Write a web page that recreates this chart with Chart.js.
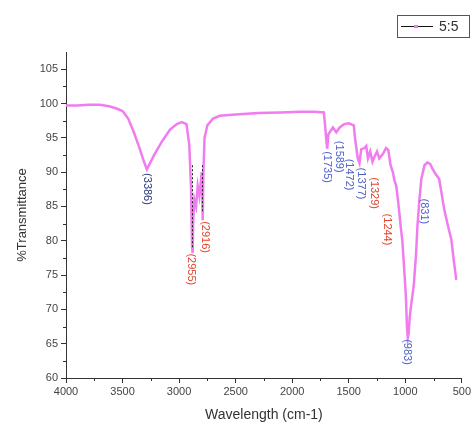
<!DOCTYPE html>
<html>
<head>
<meta charset="utf-8">
<script src="https://cdn.jsdelivr.net/npm/chart.js@4"></script>
<style>
  html, body { margin: 0; padding: 0; background: #fff; }
  #wrap { width: 473px; height: 428px; }
</style>
</head>
<body>
<div id="wrap"><canvas id="ir-chart" width="473" height="428"></canvas></div>
<script>
// spectrum: wavenumber (cm-1) and %T
const wavenumbers = [4000, 3900, 3800, 3700, 3620, 3560, 3500, 3450, 3400, 3350, 3310, 3285, 3260, 3220, 3150, 3080, 3020, 2976,
  2935, 2910, 2895, 2885, 2880, 2875, 2865, 2850, 2835, 2820, 2800, 2791, 2785, 2775, 2750, 2700, 2640, 2500, 2300, 2100,
  1935, 1800, 1720, 1710, 1700, 1690, 1680, 1640, 1610, 1580, 1540, 1500, 1455, 1445, 1420, 1405, 1390, 1360, 1345, 1330,
  1310, 1290, 1273, 1250, 1230, 1200, 1170, 1150, 1130, 1110, 1096, 1080, 1065, 1052, 1040, 1026, 1010, 995, 985, 978,
  970, 960, 945, 925, 905, 893, 875, 858, 830, 805, 780, 760, 735, 700, 680, 655, 620, 593, 570, 549];
const transmittance = [99.7, 99.7, 99.8, 99.8, 99.6, 99.3, 98.9, 97.8, 95.8, 93.5, 91.5, 90.4, 91.2, 92.5, 94.5, 96.2, 97.0, 97.3,
  97.0, 94.0, 88.0, 79.0, 78.2, 83.0, 86.0, 85.0, 88.0, 86.5, 90.0, 83.0, 90.0, 95.0, 96.8, 97.8, 98.2, 98.4, 98.6, 98.7,
  98.8, 98.8, 98.7, 97.0, 95.0, 93.4, 95.5, 96.5, 95.8, 96.5, 97.0, 97.1, 96.8, 95.0, 92.0, 91.3, 93.3, 93.5, 93.8, 92.0,
  93.0, 91.5, 92.2, 93.0, 92.0, 92.6, 93.5, 93.2, 91.0, 90.0, 88.8, 88.0, 86.0, 84.0, 82.0, 80.0, 76.0, 72.0, 67.5, 65.8,
  66.5, 69.0, 71.0, 73.5, 78.0, 82.0, 86.0, 89.0, 91.0, 91.4, 91.2, 90.5, 89.8, 89.0, 87.0, 84.5, 82.0, 80.2, 77.0, 74.3];

// peak labels (text, anchor wavenumber, anchor %T, colour)
const peakLabels = ['(3386)', '(2955)', '(2916)', '(1735)', '(1589)', '(1472)', '(1377)', '(1329)', '(1244)', '(983)', '(831)'];
const peakX = [3285, 2897, 2773, 1688, 1582, 1493, 1388, 1273, 1158, 982, 832];
const peakY = [90.0, 78.3, 83.0, 93.2, 94.7, 92.1, 90.8, 89.4, 84.1, 65.8, 86.3];
const peakColors = ['#2a3a78', '#e2452e', '#e2452e', '#4f62c8', '#4f62c8', '#4f62c8', '#4f62c8', '#e2452e', '#e2452e', '#4f62c8', '#4f62c8'];

const xTicks = [4000, 3500, 3000, 2500, 2000, 1500, 1000, 500];
const yTicks = [60, 65, 70, 75, 80, 85, 90, 95, 100, 105];
const seriesName = '5:5';
const lineColor = '#f07cf0';

const points = wavenumbers.map((w, i) => ({ x: w, y: transmittance[i] }));

const extras = {
  id: 'extras',
  afterDraw(chart) {
    const { ctx, scales: { x, y } } = chart;
    ctx.save();
    // minor ticks
    ctx.strokeStyle = '#333';
    ctx.lineWidth = 1;
    for (let w = 750; w < 4000; w += 500) {
      const px = Math.round(x.getPixelForValue(w)) + 0.5;
      ctx.beginPath(); ctx.moveTo(px, y.bottom); ctx.lineTo(px, y.bottom + 3); ctx.stroke();
    }
    for (let v = 62.5; v < 107.5; v += 5) {
      const py = Math.round(y.getPixelForValue(v)) + 0.5;
      ctx.beginPath(); ctx.moveTo(x.left, py); ctx.lineTo(x.left - 3, py); ctx.stroke();
    }
    // dotted leaders in the C-H bands
    ctx.strokeStyle = '#222';
    ctx.setLineDash([2, 2]);
    [[2885, 91, 79], [2800, 91, 84]].forEach(([w, a, b]) => {
      const px = Math.round(x.getPixelForValue(w)) + 0.5;
      ctx.beginPath(); ctx.moveTo(px, y.getPixelForValue(a)); ctx.lineTo(px, y.getPixelForValue(b)); ctx.stroke();
    });
    ctx.setLineDash([]);
    // rotated peak labels
    ctx.font = '11px "Liberation Sans", Arial, sans-serif';
    ctx.textAlign = 'left';
    ctx.textBaseline = 'middle';
    peakLabels.forEach((t, i) => {
      ctx.save();
      ctx.translate(x.getPixelForValue(peakX[i]), y.getPixelForValue(peakY[i]) + 1);
      ctx.rotate(Math.PI / 2);
      ctx.fillStyle = peakColors[i];
      ctx.fillText(t, 0, 0);
      ctx.restore();
    });
    // legend box
    ctx.strokeStyle = '#555';
    ctx.strokeRect(397.5, 15.5, 72, 22);
    ctx.strokeStyle = '#111';
    ctx.beginPath(); ctx.moveTo(401, 26.5); ctx.lineTo(433, 26.5); ctx.stroke();
    ctx.fillStyle = lineColor;
    ctx.fillRect(414, 25, 4, 3);
    ctx.fillStyle = '#333';
    ctx.font = '14px "Liberation Sans", Arial, sans-serif';
    ctx.fillText(seriesName, 439, 27);
    ctx.restore();
  }
};

const axisFont = { family: '"Liberation Sans", Arial, sans-serif', size: 11 };
const ctx = document.getElementById('ir-chart');
const chart = new Chart(ctx, {
  type: 'line',
  data: {
    datasets: [{
      label: seriesName,
      data: points,
      borderColor: lineColor,
      borderWidth: 2.5,
      pointRadius: 0,
      tension: 0,
      fill: false
    }]
  },
  options: {
    responsive: false,
    animation: false,
    layout: { padding: { top: 52, right: 10, left: 0, bottom: 0 } },
    plugins: { legend: { display: false }, tooltip: { enabled: false } },
    scales: {
      x: {
        type: 'linear',
        reverse: true,
        min: 500,
        max: 4000,
        afterBuildTicks: s => { s.ticks = xTicks.map(v => ({ value: v })); },
        afterFit: s => { s.height = 50; },
        ticks: { color: '#444', font: axisFont, maxRotation: 0, autoSkip: false, padding: 2, callback: v => String(v) },
        grid: { drawOnChartArea: false, color: '#333', tickLength: 5 },
        border: { color: '#333', width: 1 },
        title: { display: true, text: 'Wavelength (cm-1)', color: '#333',
          font: { family: '"Liberation Sans", Arial, sans-serif', size: 14 }, padding: { top: 0, bottom: 4 } }
      },
      y: {
        min: 60,
        max: 107.5,
        afterBuildTicks: s => { s.ticks = yTicks.map(v => ({ value: v })); },
        afterFit: s => { s.width = 66; },
        ticks: { color: '#444', font: axisFont, padding: 3, callback: v => String(v) },
        grid: { drawOnChartArea: false, color: '#333', tickLength: 5 },
        border: { color: '#333', width: 1 },
        title: { display: true, text: '%Transmittance', color: '#333',
          font: { family: '"Liberation Sans", Arial, sans-serif', size: 13 }, padding: { top: 15, bottom: 0 } }
      }
    }
  },
  plugins: [extras]
});
</script>
</body>
</html>
